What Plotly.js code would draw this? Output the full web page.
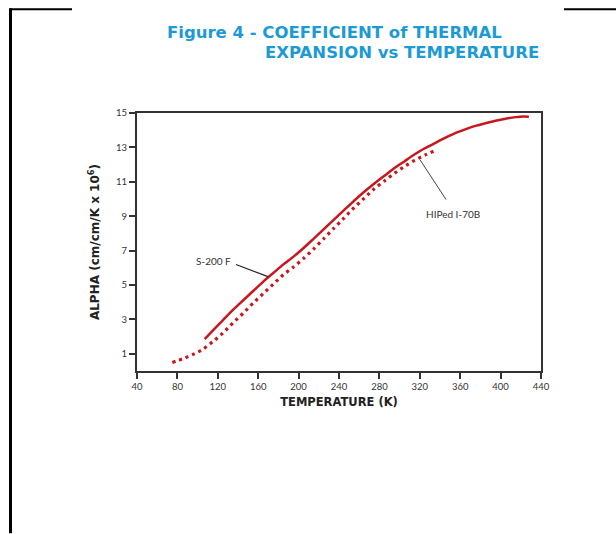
<!DOCTYPE html>
<html>
<head>
<meta charset="utf-8">
<script src="https://cdn.plot.ly/plotly-3.0.1.min.js"></script>
<style>html,body{margin:0;padding:0;background:#fff;}#chart{width:616px;height:534px;}</style>
</head>
<body>
<div id="chart"></div>
<script>
// S-200 F (solid)
var s200Temp = [107,115,125,135,145,155,165,175,185,195,205,215,225,235,245,255,265,275,285,295,305,315,325,335,345,355,365,375,385,395,405,415,422,428];
var s200Alpha = [1.85,2.35,2.95,3.55,4.1,4.65,5.2,5.7,6.2,6.65,7.15,7.7,8.25,8.8,9.35,9.9,10.42,10.9,11.35,11.8,12.2,12.6,12.95,13.25,13.55,13.83,14.05,14.25,14.4,14.55,14.67,14.76,14.8,14.78];
// HIPed I-70B (dotted)
var hipTemp = [75,85,95,105,115,125,135,145,155,165,175,185,195,205,215,225,235,245,255,265,275,285,295,305,315,325,335];
var hipAlpha = [0.5,0.7,0.95,1.25,1.7,2.2,2.8,3.35,3.95,4.5,5.05,5.6,6.05,6.55,7.1,7.7,8.3,8.9,9.5,10.05,10.6,11.05,11.5,11.9,12.25,12.55,12.82];

var xTicks = [40,80,120,160,200,240,280,320,360,400,440];
var yTicks = [1,3,5,7,9,11,13,15];

var red = '#c8161d';
var blue = '#1c9ad6';
var axisColor = '#333333';
var boldFont = '"DejaVu Sans", sans-serif';

var traces = [
  {x: s200Temp, y: s200Alpha, mode: 'lines', name: 'S-200 F',
   line: {color: red, width: 2.5, shape: 'spline', smoothing: 0.6}},
  {x: hipTemp, y: hipAlpha, mode: 'lines', name: 'HIPed I-70B',
   line: {color: red, width: 3.2, dash: '3px,4px', shape: 'spline', smoothing: 0.6}}
];

// pixel helpers for frame (paper coords relative to plot area)
var L = 137, R = 541, T = 113, B = 371.5;
function px(x){ return (x - L) / (R - L); }
function py(y){ return (B - y) / (B - T); }

var layout = {
  width: 616, height: 534,
  margin: {l: L, r: 616 - R, t: T, b: 534 - B, pad: 0},
  paper_bgcolor: '#ffffff', plot_bgcolor: '#ffffff',
  showlegend: false,
  font: {family: 'Lato, "Open Sans", sans-serif', color: '#333'},
  xaxis: {
    range: [40, 440], tickvals: xTicks, ticktext: xTicks.map(String),
    showgrid: false, zeroline: false, showline: true, mirror: true,
    linecolor: axisColor, linewidth: 2, ticks: 'outside', ticklen: 6, tickwidth: 2, tickcolor: axisColor,
    tickfont: {size: 9.5, color: '#333'},
    title: {text: '<b>TEMPERATURE (K)</b>', font: {size: 11.5, color: '#222', family: boldFont}, standoff: 7}
  },
  yaxis: {
    range: [0, 15], tickvals: yTicks, ticktext: yTicks.map(String),
    showgrid: false, zeroline: false, showline: true, mirror: true,
    linecolor: axisColor, linewidth: 2, ticks: 'outside', ticklen: 6, tickwidth: 2, tickcolor: axisColor,
    tickfont: {size: 9.5, color: '#333'},
    title: {text: '<b>ALPHA (cm/cm/K x 10<sup>6</sup>)</b>', font: {size: 12, color: '#222', family: boldFont}, standoff: 14}
  },
  annotations: [
    {xref: 'paper', yref: 'paper', x: px(165), y: py(32), xanchor: 'left', yanchor: 'middle', showarrow: false,
     text: '<b>Figure 4 - COEFFICIENT of THERMAL</b>', font: {size: 16.5, color: blue, family: boldFont}},
    {xref: 'paper', yref: 'paper', x: px(541), y: py(52), xanchor: 'right', yanchor: 'middle', showarrow: false,
     text: '<b>EXPANSION vs TEMPERATURE</b>', font: {size: 16.5, color: blue, family: boldFont}},
    {xref: 'x', yref: 'y', x: 116, y: 6.37, showarrow: false, text: 'S-200 F',
     font: {size: 10, color: '#333'}},
    {xref: 'x', yref: 'y', x: 353, y: 9.1, showarrow: false, text: 'HIPed I-70B',
     font: {size: 10, color: '#333'}}
  ],
  shapes: [
    {type: 'line', xref: 'x', yref: 'y', x0: 138, y0: 6.19, x1: 169.7, y1: 5.49, line: {color: '#222', width: 1.2}},
    {type: 'line', xref: 'x', yref: 'y', x0: 320, y0: 12.3, x1: 346, y1: 9.97, line: {color: '#444', width: 1}},
    // page frame fragments
    {type: 'line', xref: 'paper', yref: 'paper', x0: px(10), y0: py(9), x1: px(72), y1: py(9), line: {color: '#000', width: 2}},
    {type: 'line', xref: 'paper', yref: 'paper', x0: px(564), y0: py(9), x1: px(616), y1: py(9), line: {color: '#000', width: 2}},
    {type: 'line', xref: 'paper', yref: 'paper', x0: px(10.5), y0: py(8), x1: px(10.5), y1: py(534), line: {color: '#000', width: 3}}
  ]
};

Plotly.newPlot('chart', traces, layout, {displayModeBar: false, staticPlot: true});
</script>
</body>
</html>
